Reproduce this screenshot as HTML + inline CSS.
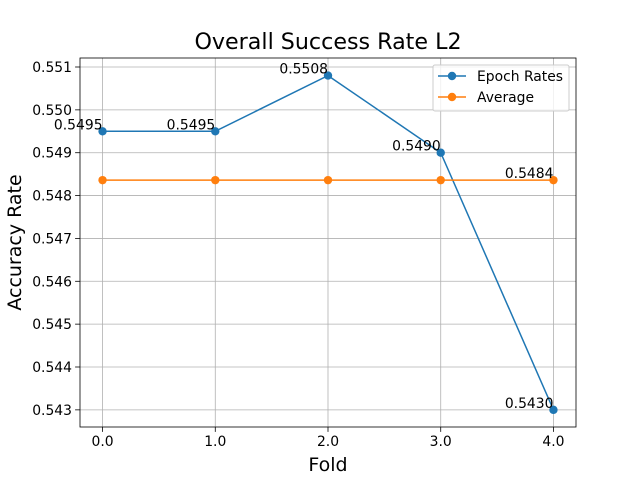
<!DOCTYPE html>
<html><head><meta charset="utf-8"><style>body{margin:0;background:#fff}svg{font-family:"DejaVu Sans","Liberation Sans",sans-serif}</style></head>
<body>
<svg id="chart" width="640" height="480" viewBox="0 0 640 480"></svg>
<script>
const folds = [0, 1, 2, 3, 4];
const epochRates = [0.5495, 0.5495, 0.5508, 0.5490, 0.5430];
const averageRate = [0.54836, 0.54836, 0.54836, 0.54836, 0.54836];
const pointLabels = ["0.5495", "0.5495", "0.5508", "0.5490", "0.5430"];
const xTicks = [0, 1, 2, 3, 4];
const xTickLabels = ["0.0", "1.0", "2.0", "3.0", "4.0"];
const yTicks = [0.543, 0.544, 0.545, 0.546, 0.547, 0.548, 0.549, 0.550, 0.551];

const L = 80, R = 576, T = 58, B = 427;
const xMin = -0.2, xMax = 4.2, yMin = 0.54260, yMax = 0.55121;
const xs = v => L + (v - xMin) / (xMax - xMin) * (R - L);
const ys = v => B - (v - yMin) / (yMax - yMin) * (B - T);
const svg = document.getElementById('chart');
const NS = 'http://www.w3.org/2000/svg';
function mk(tag, attrs, text) {
  const e = document.createElementNS(NS, tag);
  for (const k in attrs) e.setAttribute(k, attrs[k]);
  if (text !== undefined) e.textContent = text;
  svg.appendChild(e);
  return e;
}
let e;
xTicks.forEach((t, i) => {
  const x = xs(t);
  e = mk('line', {x1: x, x2: x, y1: T, y2: B, stroke: '#b0b0b0', 'stroke-width': 0.8});
  
  
  mk('line', {x1: x, x2: x, y1: B, y2: B + 4.9, stroke: '#000', 'stroke-width': 0.8});
  e = mk('text', {x: x, y: B + 19, 'font-size': 13.9, 'text-anchor': 'middle'}, xTickLabels[i]);
  
  
});
yTicks.forEach(t => {
  const y = ys(t);
  e = mk('line', {x1: L, x2: R, y1: y, y2: y, stroke: '#b0b0b0', 'stroke-width': 0.8});
  
  
  mk('line', {x1: L - 4.9, x2: L, y1: y, y2: y, stroke: '#000', 'stroke-width': 0.8});
  e = mk('text', {x: L - 8, y: y + 5, 'font-size': 13.9, 'text-anchor': 'end'}, t.toFixed(3));
  
  
});
function series(vals, color, name) {
  e = mk('polyline', {points: vals.map((v, i) => xs(folds[i]) + ',' + ys(v)).join(' '), fill: 'none', stroke: color, 'stroke-width': 1.5});
  
  
  vals.forEach((v, i) => {
    e = mk('circle', {cx: xs(folds[i]), cy: ys(v), r: 4.2, fill: color});
    
    
  });
}
series(epochRates, '#1f77b4', 'epoch-rates');
series(averageRate, '#ff7f0e', 'average');
epochRates.forEach((v, i) => {
  e = mk('text', {x: xs(folds[i]), y: ys(v) - 2, 'font-size': 13.9, 'text-anchor': 'end'}, pointLabels[i]);
  
  
});
e = mk('text', {x: xs(folds[4]), y: ys(averageRate[4]) - 2, 'font-size': 13.9, 'text-anchor': 'end'}, averageRate[4].toFixed(4));


e = mk('rect', {x: L, y: T, width: R - L, height: B - T, fill: 'none', stroke: '#000', 'stroke-width': 0.8});


e = mk('text', {x: (L + R) / 2, y: 49, 'font-size': 22.2, 'text-anchor': 'middle'}, 'Overall Success Rate L2');


e = mk('text', {x: (L + R) / 2, y: 471, 'font-size': 19, 'text-anchor': 'middle'}, 'Fold');


e = mk('text', {x: 21, y: (T + B) / 2, 'font-size': 19, 'text-anchor': 'middle', transform: 'rotate(-90 21 ' + (T + B) / 2 + ')'}, 'Accuracy Rate');


e = mk('rect', {x: 433, y: 65, width: 136, height: 46, rx: 2, fill: '#fff', 'fill-opacity': 0.8, stroke: '#ccc'});


[['Epoch Rates', '#1f77b4', 76], ['Average', '#ff7f0e', 97]].forEach(([n, c, y]) => {
  mk('line', {x1: 438, x2: 466, y1: y, y2: y, stroke: c, 'stroke-width': 1.5});
  mk('circle', {cx: 452, cy: y, r: 4.2, fill: c});
  e = mk('text', {x: 477, y: y + 5, 'font-size': 13.9}, n);
  
  
});
</script>
</body></html>
